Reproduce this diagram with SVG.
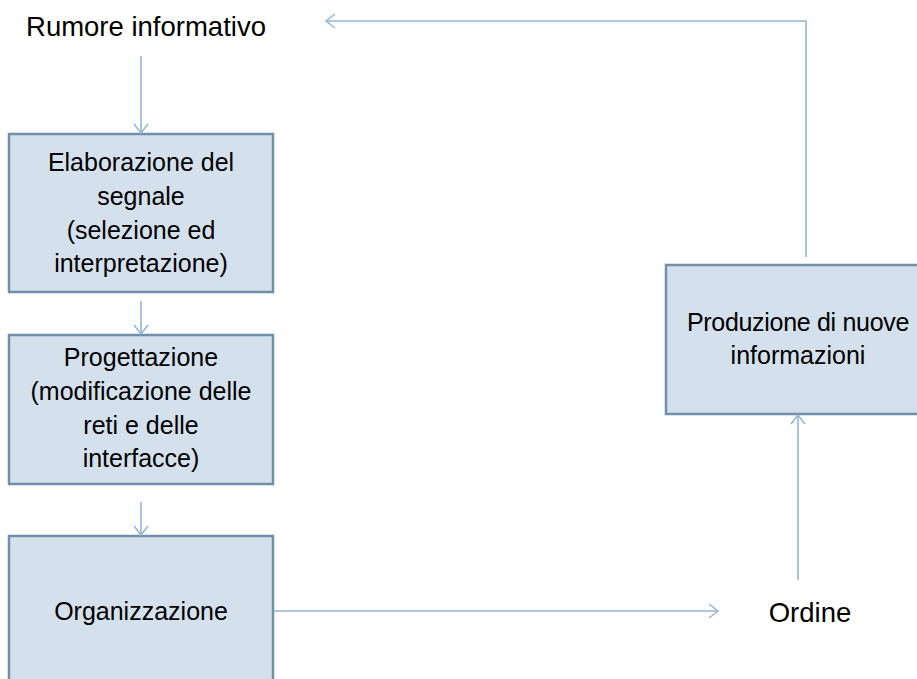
<svg xmlns="http://www.w3.org/2000/svg" width="917" height="679" viewBox="0 0 917 679">
<defs>
<marker id="arr" markerWidth="14" markerHeight="16" refX="10" refY="8" orient="auto" markerUnits="userSpaceOnUse">
<path d="M1,1 L10,8 L1,15" fill="none" stroke="#94B6D6" stroke-width="1.5"/>
</marker>
</defs>
<style>
.box{fill:#D4E1ED;stroke:#7290AB;stroke-width:2.5}
.t{font-family:"Liberation Sans",Arial,sans-serif;font-size:25px;fill:#000;text-anchor:middle}
.l{font-size:27.5px}
.c{fill:none;stroke:#94B6D6;stroke-width:1.6}
</style>
<rect width="917" height="679" fill="#fff"/>
<g id="n-rumore"><text class="t l" x="146" y="36">Rumore informativo</text></g>
<g id="n-elaborazione">
<rect class="box" x="9" y="134" width="264" height="158"/>
<text class="t" x="141" y="171">Elaborazione del</text>
<text class="t" x="141" y="205">segnale</text>
<text class="t" x="141" y="239">(selezione ed</text>
<text class="t" x="141" y="272">interpretazione)</text>
</g>
<g id="n-progettazione">
<rect class="box" x="9" y="335" width="264" height="149"/>
<text class="t" x="141" y="366">Progettazione</text>
<text class="t" x="141" y="400">(modificazione delle</text>
<text class="t" x="141" y="434">reti e delle</text>
<text class="t" x="141" y="467">interfacce)</text>
</g>
<g id="n-organizzazione">
<rect class="box" x="9" y="536" width="264" height="160"/>
<text class="t" x="141" y="620">Organizzazione</text>
</g>
<g id="n-ordine"><text class="t l" x="810" y="622">Ordine</text></g>
<g id="n-produzione">
<rect class="box" x="666" y="265" width="264" height="149"/>
<text class="t" x="798" y="331" letter-spacing="-0.3">Produzione di nuove</text>
<text class="t" x="798" y="364">informazioni</text>
</g>
<g id="connectors">
<path class="c" d="M141,56 V133" marker-end="url(#arr)"/>
<path class="c" d="M141,301 V334" marker-end="url(#arr)"/>
<path class="c" d="M141,502 V535" marker-end="url(#arr)"/>
<path class="c" d="M274,611 H718" marker-end="url(#arr)"/>
<path class="c" d="M798,580 V415" marker-end="url(#arr)"/>
<path class="c" d="M806,257 V21 H326" marker-end="url(#arr)"/>
</g>
</svg>
